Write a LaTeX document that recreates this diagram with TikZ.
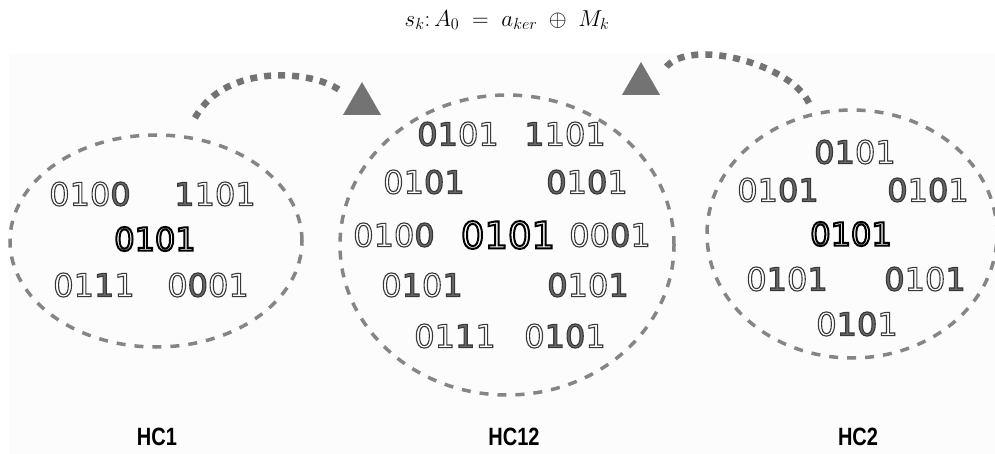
\RequirePackage{fix-cm}
\documentclass[tikz,border=0pt]{standalone}
\usepackage{fontspec}
\usepackage{graphicx}
\newfontfamily\dig{DejaVu Sans}
\newfontfamily\lab{Liberation Sans}
\usetikzlibrary{shapes.geometric}
\definecolor{ellc}{gray}{0.52}
\definecolor{arrc}{gray}{0.45}
\definecolor{panel}{gray}{0.988}
% text render mode helpers (xdvipdfmx)
\newcommand\rmode[1]{\special{pdf:literal direct #1}}
\newcommand\dW[1]{\rmode{2 Tr 1.1 w 1 g 0.22 G}#1}
\newcommand\dD[1]{\rmode{2 Tr 1.1 w 0.40 g 0.22 G}#1}
\newcommand\dX{\rmode{0 Tr 0 g 0 G}}
\newcommand\dC[1]{\rmode{2 Tr 2.0 w 1 g 0 G}#1\dX}
\newcommand\narrow[1]{\scalebox{0.8}[1]{#1}}
\tikzset{
  hc/.style={ellipse, draw=ellc, line width=3.5pt, dash pattern=on 9pt off 9pt, inner sep=0pt},
  bits/.style={inner sep=0pt, font=\dig\fontsize{32}{36}\selectfont},
  bigbits/.style={inner sep=0pt, font=\dig\fontsize{37}{40}\selectfont},
  dotarrow/.style={draw=arrc, line width=6.5pt, dash pattern=on 7pt off 7pt},
  tri/.style={regular polygon, regular polygon sides=3, fill=arrc, inner sep=0pt, minimum size=44pt},
  hclabel/.style={font=\lab\bfseries\fontsize{25}{28}\selectfont},
}
\begin{document}
\begin{tikzpicture}[x=1pt,y=-1pt]
\useasboundingbox (0,0) rectangle (995,454);
\fill[panel] (9,53) rectangle (995,454);

\node (f) at (507,20) {\fontsize{23}{26}\selectfont $s_k{:}\,A_0 \;=\; a_{ker} \;\oplus\; M_k$};

% clusters
\node[hc, minimum width=292pt, minimum height=212pt] (hc1) at (156,241) {};
\node[hc, minimum width=334pt, minimum height=300pt] (hc12) at (507,245) {};
\node[hc, minimum width=290pt, minimum height=248pt] (hc2) at (852,234) {};

% HC1
\node[bits] (a1) at (90,194) {\dW{010}\dD{0}\dX};
\node[bits] (a2) at (215,194) {\dD{1}\dW{101}\dX};
\node[bits] (a3) at (155,239) {\dC{0101}};
\node[bits] (a4) at (94,285) {\dW{01}\dD{1}\dW{1}\dX};
\node[bits] (a5) at (208,285) {\dW{0}\dD{0}\dW{01}\dX};

% HC12
\node[bits] (b1) at (458,134) {\dD{01}\dW{01}\dX};
\node[bits] (b2) at (565,134) {\dD{1}\dW{101}\dX};
\node[bits] (b3) at (424,182) {\dW{01}\dD{01}\dX};
\node[bits] (b4) at (587,182) {\dD{0}\dW{1}\dD{0}\dW{1}\dX};
\node[bits] (b5) at (394,235) {\dW{010}\dD{0}\dX};
\node[bigbits] (b6) at (508,235) {\dC{0101}};
\node[bits] (b7) at (610,235) {\dW{00}\dD{0}\dW{1}\dX};
\node[bits] (b8) at (422,285) {\dW{0}\dD{1}\dW{0}\dD{1}\dX};
\node[bits] (b9) at (588,285) {\dD{0}\dW{10}\dD{1}\dX};
\node[bits] (b10) at (455,336) {\dW{01}\dD{1}\dW{1}\dX};
\node[bits] (b11) at (565,336) {\dW{0}\dD{10}\dW{1}\dX};

% HC2
\node[bits] (c1) at (855,152) {\dD{01}\dW{01}\dX};
\node[bits] (c2) at (778,190) {\dW{01}\dD{01}\dX};
\node[bits] (c3) at (928,190) {\dD{0}\dW{1}\dD{0}\dW{1}\dX};
\node[bits] (c4) at (851,234) {\dC{0101}};
\node[bits] (c5) at (787,279) {\dW{0}\dD{1}\dW{0}\dD{1}\dX};
\node[bits] (c6) at (925,279) {\dD{0}\dW{10}\dD{1}\dX};
\node[bits] (c7) at (857,324) {\dW{0}\dD{10}\dW{1}\dX};

% arrows
\node[tri] (t1) at (362,104) {};
\node[tri] (t2) at (641,84) {};
\coordinate (s1) at (195,118);
\coordinate (e1) at (342,92);
\coordinate (s2) at (809,103);
\coordinate (e2) at (663,72);
\draw[dotarrow] (s1) .. controls (225,62) and (316,70) .. (e1);
\draw[dotarrow] (s2) .. controls (790,62) and (680,35) .. (e2);

% labels
\node[hclabel] (l1) at (157,437) {\narrow{HC1}};
\node[hclabel] (l12) at (514,437) {\narrow{HC12}};
\node[hclabel] (l2) at (858,437) {\narrow{HC2}};
\end{tikzpicture}
\end{document}
